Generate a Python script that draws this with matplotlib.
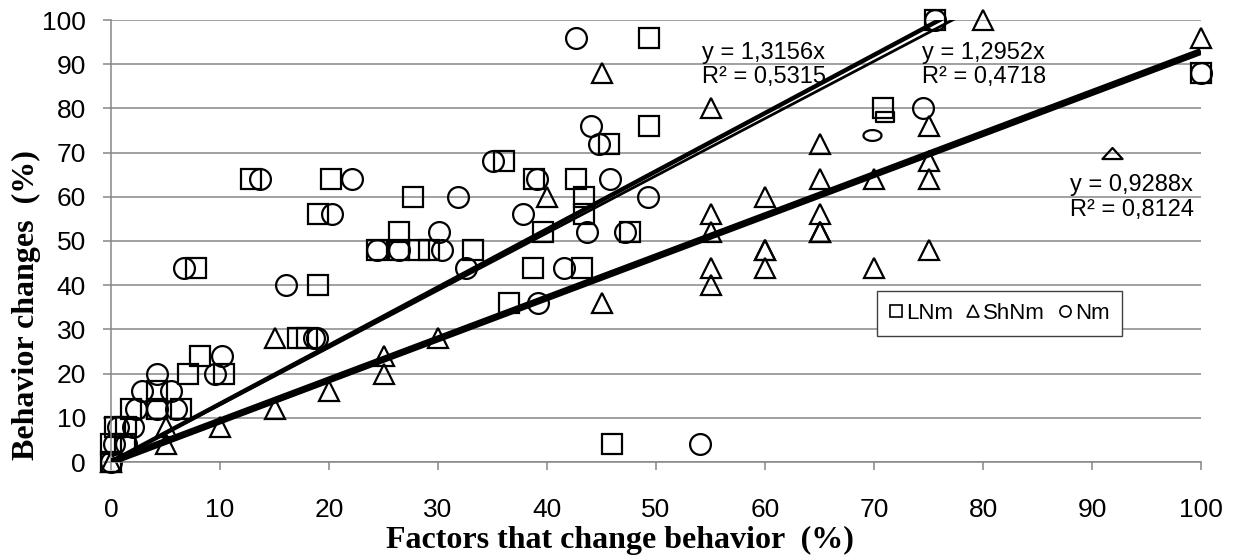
import numpy as np
import matplotlib.pyplot as plt
from matplotlib.path import Path
from matplotlib.lines import Line2D

plt.rcParams['font.family'] = ['Liberation Sans', 'DejaVu Sans']

# LNm (squares)
lnm_x = [0, 0, 0.4, 1.3, 1.4, 1.8, 4.2, 4.2, 6.4, 7.1, 8.2, 10.4, 7.8, 12.8, 17.2, 18.0,
         19.0, 19.0, 20.2, 24.4, 26.4, 26.4, 27.7, 28.3, 29.2, 33.2, 36.1, 36.5, 38.7,
         38.8, 39.6, 42.7, 43.2, 43.4, 43.4, 45.7, 46.0, 47.6, 49.4, 49.4, 70.8, 75.6, 100]
lnm_y = [0, 4, 8, 4, 8, 12, 12, 16, 12, 20, 24, 20, 44, 64, 28, 28,
         40, 56, 64, 48, 52, 48, 60, 48, 48, 48, 68, 36, 44,
         64, 52, 64, 44, 60, 56, 72, 4, 52, 76, 96, 80, 100, 88]

# ShNm (triangles)
shnm_x = [0, 5, 5, 10, 15, 15, 20, 25, 25, 30, 40, 45, 45, 55, 55, 55, 55, 55,
          60, 60, 60, 60, 65, 65, 65, 65, 65, 70, 70, 75, 75, 75, 75, 80, 100]
shnm_y = [0, 4, 8, 8, 12, 28, 16, 20, 24, 28, 60, 36, 88, 80, 56, 52, 44, 40,
          60, 48, 48, 44, 72, 64, 56, 52, 52, 64, 44, 76, 68, 64, 48, 100, 96]

# Nm (circles)
nm_x = [0, 0.3, 1.4, 0.6, 2.0, 2.3, 4.2, 6.0, 2.8, 5.5, 4.2, 9.5, 10.2, 6.7, 13.7,
        16.1, 18.6, 18.9, 20.3, 22.1, 24.4, 26.4, 30.1, 30.4, 31.8, 32.6, 35.0, 37.8,
        39.1, 39.2, 41.6, 42.7, 43.7, 44.0, 44.8, 45.8, 47.2, 49.3, 54.0, 74.5, 75.6, 100]
nm_y = [0, 4, 4, 8, 8, 12, 12, 12, 16, 16, 20, 20, 24, 44, 64,
        40, 28, 28, 56, 64, 48, 48, 52, 48, 60, 44, 68, 56,
        64, 36, 44, 96, 52, 76, 72, 64, 52, 60, 4, 80, 100, 88]

# squashed markers in the source
lnm_flat = ([71.0], [78])
nm_flat = ([69.8], [74])
shnm_flat = ([91.8], [70])

slopes = [1.3156, 1.2952, 0.9288]
r2 = ['0,5315', '0,4718', '0,8124']
slope_labels = ['1,3156', '1,2952', '0,9288']

fig = plt.figure(figsize=(12.4, 5.57), dpi=100)
ax = fig.add_axes([111/1240, 1-462/557, 1090/1240, 442/557])

mk = dict(ls='none', mfc='none', mec='black', ms=15, mew=1.6, clip_on=False, zorder=2)
ax.plot(lnm_x, lnm_y, marker='s', **mk)
ax.plot(shnm_x, shnm_y, marker='^', **mk)
ax.plot(nm_x, nm_y, marker='o', **mk)

flat_rect = Path([(-1, -0.6), (1, -0.6), (1, 0.6), (-1, 0.6), (-1, -0.6)],
                 [Path.MOVETO, Path.LINETO, Path.LINETO, Path.LINETO, Path.CLOSEPOLY])
t = np.linspace(0, 2*np.pi, 60)
flat_ell = Path(np.column_stack([np.cos(t), 0.6*np.sin(t)]))
flat_tri = Path([(-1, -0.55), (1, -0.55), (0, 0.55), (-1, -0.55)],
                [Path.MOVETO, Path.LINETO, Path.LINETO, Path.CLOSEPOLY])
ax.plot(*lnm_flat, marker=flat_rect, **{**mk, 'ms': 12.5})
ax.plot(*nm_flat, marker=flat_ell, **{**mk, 'ms': 13})
ax.plot(*shnm_flat, marker=flat_tri, **{**mk, 'ms': 14.5})

xs = np.array([0, 100])
widths = [3.2, 2.0, 5.0]
for s, w in zip(slopes, widths):
    ax.plot(xs, s*xs, color='black', lw=w, solid_capstyle='butt', zorder=3)

lbl_pos = [(54.2, 89.8), (74.4, 89.8), (88.0, 59.9)]
for (tx, ty), sl, r in zip(lbl_pos, slope_labels, r2):
    ax.text(tx, ty, 'y = %sx\nR² = %s' % (sl, r), fontsize=17, ha='left', va='center',
            linespacing=1.15, zorder=4)

ax.set_xlim(0, 100)
ax.set_ylim(0, 100)
ax.set_xticks(np.arange(0, 101, 10))
ax.set_yticks(np.arange(0, 101, 10))
ax.yaxis.grid(True, color='#868686', lw=1.1)
ax.set_axisbelow(True)
for sp in ['top', 'right']:
    ax.spines[sp].set_visible(False)
for sp in ['left', 'bottom']:
    ax.spines[sp].set_color('#868686')
    ax.spines[sp].set_linewidth(1.1)
ax.tick_params(axis='both', direction='out', length=6, width=1.1, color='#868686',
               labelsize=19)
ax.tick_params(axis='x', pad=20)
ax.tick_params(axis='y', pad=12)

handles = [Line2D([], [], marker=m, ls='none', mfc='none', mec='black', ms=8, mew=1.2)
           for m in ['s', '^', 'o']]
leg = ax.legend(handles, ['LNm', 'ShNm', 'Nm'], ncol=3, loc='upper left',
                bbox_to_anchor=(0.703, 0.388), borderaxespad=0, fontsize=16,
                handlelength=0.6, handletextpad=0.15, columnspacing=0.6,
                borderpad=0.55, fancybox=False, framealpha=1)
leg.get_frame().set_edgecolor('#404040')
leg.get_frame().set_linewidth(1.0)

fig.text(0.5, 0.016, 'Factors that change behavior  (%)', ha='center', va='baseline',
         fontsize=23, fontweight='bold', family='Liberation Serif')
fig.text(0.021, 0.452, 'Behavior changes  (%)', ha='center', va='center', rotation=90,
         fontsize=23, fontweight='bold', family='Liberation Serif')

plt.savefig('out.png', dpi=100)
